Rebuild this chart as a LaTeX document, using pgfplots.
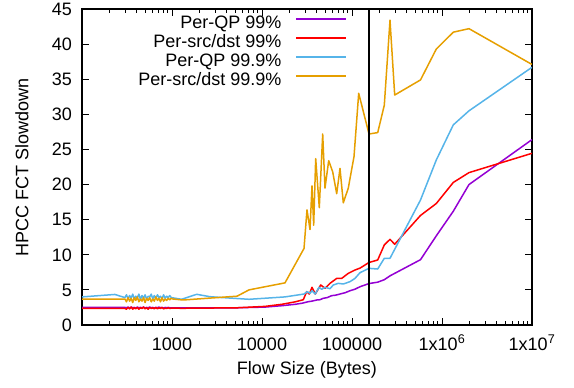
\documentclass[border=0pt]{standalone}
\usepackage{fontspec}
\setmainfont{Liberation Sans}
\usepackage{pgfplots}
\pgfplotsset{compat=1.18}
\definecolor{cpurple}{HTML}{9400D3}
\definecolor{cred}{HTML}{FF0000}
\definecolor{cblue}{HTML}{56B4E9}
\definecolor{corange}{HTML}{E69F00}
\begin{document}
\begin{tikzpicture}[x=1pt,y=1pt]
\useasboundingbox (0,0) rectangle (574,388);
\begin{axis}[
  at={(82pt,63pt)}, anchor=south west,
  scale only axis, width=450pt, height=316pt,
  xmode=log, xmin=100, xmax=1e7, ymin=0, ymax=45,
  font=\fontsize{18}{21.6}\selectfont,
  /pgf/number format/assume math mode=true,
  xtick={100,1000,10000,100000,1000000,10000000},
  xticklabels={,1000,10000,100000,1x10\textsuperscript{6},1x10\textsuperscript{7}},
  minor xtick={200,300,400,500,600,700,800,900,2000,3000,4000,5000,6000,7000,8000,9000,20000,30000,40000,50000,60000,70000,80000,90000,200000,300000,400000,500000,600000,700000,800000,900000,2000000,3000000,4000000,5000000,6000000,7000000,8000000,9000000},
  ytick={0,5,10,15,20,25,30,35,40,45},
  tick align=inside,
  major tick length=7pt, minor tick length=4pt,
  every tick/.style={black, line width=0.8pt},
  axis line style={line width=1.3pt},
  xticklabel style={anchor=north, inner sep=0pt, text height=13pt, text depth=0pt, yshift=-12pt},
  yticklabel style={anchor=east, inner sep=0pt, text depth=0pt, xshift=-10pt},
  xlabel={Flow Size (Bytes)},
  xlabel style={at={(axis description cs:0.5,0)}, anchor=base, inner sep=0pt, yshift=-50pt},
  ylabel={HPCC FCT Slowdown},
  ylabel style={at={(axis description cs:-0.1333,0.5)}, anchor=center, inner sep=0pt, rotate=0},
  legend plot pos=right,
  legend cell align=right,
  legend image code/.code={\draw[#1, line width=1.5pt] (0pt,6.5pt) -- (50pt,6.5pt);},
  legend style={draw=none, fill=none, inner sep=0pt, outer sep=0pt,
    at={(axis description cs:0.5889,0.978)}, anchor=north east,
    row sep=0pt,
    nodes={inner sep=0pt, text height=13pt, text depth=6pt},
    /tikz/every odd column/.append style={column sep=14pt}},
]
\addplot[cpurple, line width=1.5pt, line join=round, no marks] coordinates {(100,2.5) (232,2.5) (300,2.5) (312,2.45) (325,2.55) (338,2.4) (352,2.55) (366,2.45) (381,2.5) (396,2.4) (412,2.55) (429,2.45) (446,2.5) (464,2.45) (483,2.55) (502,2.4) (522,2.5) (543,2.45) (565,2.55) (588,2.45) (612,2.5) (636,2.4) (662,2.5) (689,2.45) (716,2.55) (745,2.45) (775,2.5) (806,2.4) (839,2.5) (872,2.45) (907,2.5) (944,2.45) (982,2.45) (1300,2.45) (5275,2.45) (10800,2.55) (16680,2.75) (23440,2.95) (27830,3.1) (32690,3.32) (36000,3.4) (40540,3.56) (44000,3.6) (47980,3.8) (53000,3.9) (59480,4.18) (66000,4.25) (73560,4.41) (84000,4.6) (95010,4.88) (108000,5.1) (122700,5.45) (154500,5.9) (193100,6.1) (228500,6.45) (264400,7.0) (576900,9.3) (864300,12.7) (1335000,16.2) (1995000,20.0) (10000000,26.4)};
\addplot[cred, line width=1.5pt, line join=round, no marks] coordinates {(100,2.37) (232,2.37) (300,2.35) (312,2.25) (325,2.5) (338,2.3) (352,2.55) (366,2.25) (381,2.45) (396,2.3) (412,2.5) (429,2.25) (446,2.45) (464,2.35) (483,2.55) (502,2.3) (522,2.45) (543,2.25) (565,2.5) (588,2.35) (612,2.45) (636,2.3) (662,2.5) (689,2.3) (716,2.45) (745,2.35) (775,2.5) (806,2.3) (839,2.4) (872,2.35) (907,2.45) (944,2.35) (982,2.4) (1300,2.38) (5275,2.45) (10800,2.65) (16680,2.95) (23440,3.3) (28760,3.6) (31380,4.75) (33550,4.41) (35940,5.37) (39100,4.41) (44890,5.7) (50120,5.22) (56960,5.93) (67610,6.64) (76820,6.64) (90960,7.35) (108000,7.83) (122700,8.1) (154500,8.9) (193100,9.26) (228500,11.4) (264400,12.2) (298200,11.5) (576900,15.6) (864300,17.3) (1335000,20.3) (1995000,21.7) (10000000,24.45)};
\addplot[cblue, line width=1.5pt, line join=round, no marks] coordinates {(100,4.0) (232,4.35) (300,3.9) (312,4.3) (325,3.7) (338,4.2) (352,3.8) (366,4.4) (381,3.7) (396,4.1) (412,3.9) (429,4.4) (446,3.6) (464,4.2) (483,3.8) (502,4.3) (522,3.7) (543,4.1) (565,4.0) (588,4.4) (612,3.7) (636,4.2) (662,3.8) (689,4.3) (716,3.9) (745,4.1) (775,3.7) (806,4.3) (839,3.8) (872,4.1) (907,3.9) (944,4.2) (982,3.9) (1282,3.66) (1881,4.37) (2644,4.03) (3687,3.9) (7171,3.66) (18010,4.0) (29290,4.41) (31860,4.75) (34150,4.51) (35940,4.88) (39100,4.41) (42990,5.37) (46050,5.08) (50120,5.37) (56960,5.17) (61980,5.7) (70440,5.93) (80050,5.84) (95010,6.17) (108000,6.64) (122700,7.45) (154500,8.07) (193100,7.97) (228500,9.5) (264400,9.5) (576900,17.8) (864300,23.5) (1335000,28.5) (1995000,30.5) (10000000,36.7)};
\addplot[corange, line width=1.5pt, line join=round, no marks] coordinates {(100,3.7) (300,3.7) (312,3.3) (325,3.9) (338,3.4) (352,3.8) (366,3.2) (381,3.9) (396,3.5) (412,4.0) (429,3.3) (446,3.7) (464,3.4) (483,3.9) (502,3.2) (522,3.8) (543,3.5) (565,3.9) (588,3.3) (612,3.7) (636,3.4) (662,4.0) (689,3.5) (716,3.8) (745,3.3) (775,3.9) (806,3.4) (839,3.7) (872,3.5) (907,3.8) (944,3.6) (982,3.8) (1026,3.7) (1325,3.56) (5275,4.1) (7171,5.0) (18010,6.0) (29290,10.9) (31620,16.4) (34150,13.6) (35940,19.8) (37530,14.2) (39510,23.7) (43310,16.7) (47250,27.2) (50120,19.5) (55100,23.4) (61050,21.8) (67610,18.7) (73560,22.3) (80050,17.4) (90960,19.5) (105300,24.0) (118700,33.0) (154500,27.2) (193100,27.4) (228500,31.3) (264400,43.4) (298200,32.75) (576900,34.9) (864300,39.3) (1335000,41.7) (1995000,42.2) (10000000,37.1)};
\addplot[black, line width=1.5pt, forget plot] coordinates {(154500,0) (154500,45)};
\legend{Per-QP 99\%, Per-src/dst 99\%, Per-QP 99.9\%, Per-src/dst 99.9\%}
\end{axis}
\end{tikzpicture}
\end{document}
